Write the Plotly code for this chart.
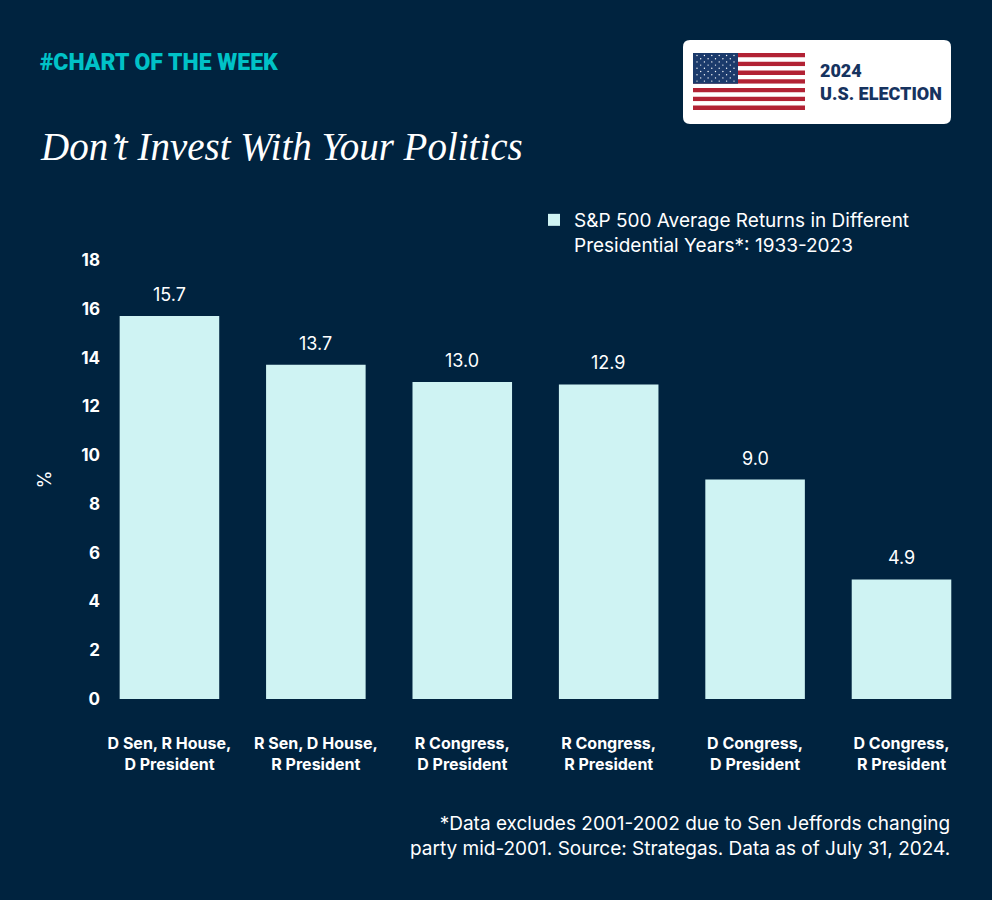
import plotly.graph_objects as go

# S&P 500 average returns by party control, 1933-2023
categories = ["D Sen, R House,<br>D President", "R Sen, D House,<br>R President",
              "R Congress,<br>D President", "R Congress,<br>R President",
              "D Congress,<br>D President", "D Congress,<br>R President"]
avg_returns = [15.7, 13.7, 13.0, 12.9, 9.0, 4.9]
y_ticks = [0, 2, 4, 6, 8, 10, 12, 14, 16, 18]

BG = "#00233F"
BAR = "#CFF3F3"
TEAL = "#00C2C7"
FONT = "Inter, Roboto, sans-serif"
COND = "Roboto, sans-serif"

W, H = 992, 900
L, R, T, B = 110, 17, 260, 201


# pixel -> paper helpers for the decorations
def px(x):
    return (x - L) / (W - L - R)


def py(y):
    return (H - B - y) / (H - T - B)


fig = go.Figure()
fig.add_trace(go.Bar(x=categories, y=avg_returns,
                     name="S&P 500 Average Returns in Different<br>Presidential Years*: 1933-2023",
                     marker=dict(color=BAR, line=dict(width=0))))

shapes = []
# logo box with rounded corners
x0, x1, y0, y1, r = 683, 951, 40, 124, 7
path = ("M %f,%f L %f,%f Q %f,%f %f,%f L %f,%f Q %f,%f %f,%f L %f,%f Q %f,%f %f,%f L %f,%f Q %f,%f %f,%f Z" % (
    px(x0 + r), py(y0), px(x1 - r), py(y0), px(x1), py(y0), px(x1), py(y0 + r),
    px(x1), py(y1 - r), px(x1), py(y1), px(x1 - r), py(y1),
    px(x0 + r), py(y1), px(x0), py(y1), px(x0), py(y1 - r),
    px(x0), py(y0 + r), px(x0), py(y0), px(x0 + r), py(y0)))
shapes.append(dict(type="path", path=path, xref="paper", yref="paper",
                   fillcolor="white", line=dict(width=0), layer="above"))
# flag stripes
fx0, fx1, fy0, fy1 = 693, 805, 53, 110
sh = (fy1 - fy0) / 13.0
for i in range(13):
    shapes.append(dict(type="rect", xref="paper", yref="paper",
                       x0=px(fx0), x1=px(fx1), y0=py(fy0 + i * sh), y1=py(fy0 + (i + 1) * sh),
                       fillcolor="#B22234" if i % 2 == 0 else "white",
                       line=dict(width=0), layer="above"))
cx1, cy1 = 738, fy0 + 7 * sh
shapes.append(dict(type="rect", xref="paper", yref="paper",
                   x0=px(fx0), x1=px(cx1), y0=py(fy0), y1=py(cy1),
                   fillcolor="#1B3A6B", line=dict(width=0), layer="above"))
for row in range(9):
    n = 6 if row % 2 == 0 else 5
    for k in range(n):
        sx = fx0 + 4 + k * 7.4 + (0 if row % 2 == 0 else 3.7)
        sy = fy0 + 2.5 + row * 3.2
        shapes.append(dict(type="circle", xref="paper", yref="paper",
                           x0=px(sx - 0.7), x1=px(sx + 0.7), y0=py(sy - 0.7), y1=py(sy + 0.7),
                           fillcolor="white", line=dict(width=0), layer="above"))

annotations = [
    dict(text="#CHART OF THE WEEK", xref="paper", yref="paper",
         x=px(38), y=py(63), xanchor="left", yanchor="middle", showarrow=False,
         font=dict(family=COND, size=23, color=TEAL, weight=900)),
    dict(text="<i>Don\u2019t Invest With Your Politics</i>", xref="paper", yref="paper",
         x=px(38), y=py(147), xanchor="left", yanchor="middle", showarrow=False,
         font=dict(family="Liberation Serif, DejaVu Serif, serif", size=39, color="white")),
    dict(text="2024<br>U.S. ELECTION", xref="paper", yref="paper",
         x=px(818), y=py(82), xanchor="left", yanchor="middle", align="left", showarrow=False,
         font=dict(family=COND, size=18, color="#16335F", weight=900)),
    dict(text="*Data excludes 2001-2002 due to Sen Jeffords changing<br>party mid-2001. Source: Strategas. Data as of July 31, 2024.",
         xref="paper", yref="paper", x=px(952), y=py(836), xanchor="right", yanchor="middle",
         align="right", showarrow=False, font=dict(family=FONT, size=19, color="white")),
]
# value labels above each bar
for c, v in zip(categories, avg_returns):
    annotations.append(dict(x=c, y=v, text="%.1f" % v, xref="x", yref="y",
                            yanchor="bottom", yshift=9, showarrow=False,
                            font=dict(family=FONT, size=18, color="white")))

fig.update_layout(
    width=W, height=H,
    margin=dict(l=L, r=R, t=T, b=B, autoexpand=False),
    paper_bgcolor=BG, plot_bgcolor=BG,
    bargap=0.32,
    font=dict(family=FONT, color="white"),
    showlegend=True,
    legend=dict(x=px(534), y=py(201), xanchor="left", yanchor="top", valign="top",
                font=dict(family=FONT, size=19, color="white"),
                bgcolor="rgba(0,0,0,0)", itemwidth=30),
    shapes=shapes,
    annotations=annotations,
)
fig.update_xaxes(range=[-0.406, 5.502], showgrid=False, showline=False, zeroline=False,
                 tickangle=0,
                 tickfont=dict(family=FONT, size=16, color="white", weight="bold"),
                 ticklabelstandoff=33, fixedrange=True)
fig.update_yaxes(range=[0, 18], tickvals=y_ticks, showgrid=False, showline=False, zeroline=False,
                 tickfont=dict(family=FONT, size=17, color="white", weight="bold"),
                 ticklabelstandoff=9,
                 title=dict(text="%", font=dict(size=18, color="white"), standoff=24),
                 fixedrange=True)

fig.write_html("out.html", config={"displayModeBar": False},
               post_script="document.body.style.margin='0';")
